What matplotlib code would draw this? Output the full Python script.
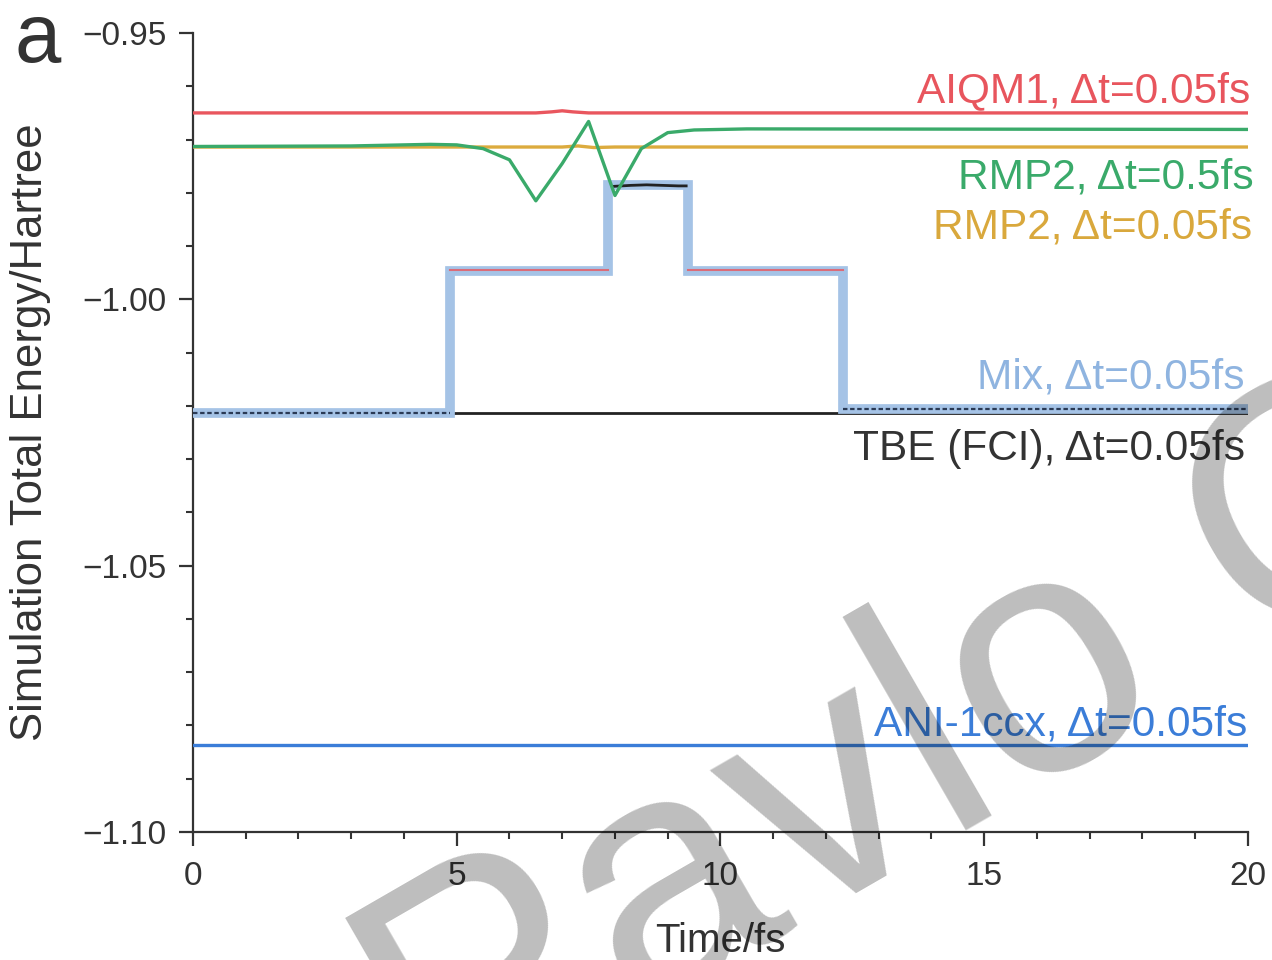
import numpy as np
import matplotlib
matplotlib.use("Agg")
import matplotlib.pyplot as plt
from matplotlib.ticker import MultipleLocator

plt.rcParams["font.family"] = ["Liberation Sans", "DejaVu Sans"]

# ---- data ----
t_aiqm1 = [0, 6.5, 6.8, 7.0, 7.2, 7.5, 20]
e_aiqm1 = [-0.9650, -0.9650, -0.9648, -0.9646, -0.9648, -0.9650, -0.9650]

t_rmp2_fine = [0, 7.0, 7.3, 7.6, 8.0, 20]
e_rmp2_fine = [-0.9714, -0.9714, -0.9712, -0.9715, -0.9714, -0.9714]

t_rmp2_coarse = [0, 3.0, 4.5, 5.0, 5.5, 6.0, 6.5, 7.0, 7.5, 8.0, 8.5, 9.0, 9.5, 10.0, 10.5, 20]
e_rmp2_coarse = [-0.9713, -0.9712, -0.9709, -0.9710, -0.9717, -0.9738, -0.9815, -0.9745,
                 -0.9666, -0.9805, -0.9717, -0.9687, -0.9682, -0.9681, -0.9680, -0.9681]

# Mix: step function (value holds until next switch time)
t_mix = [0, 4.87, 7.87, 9.38, 12.33, 20]
e_mix = [-1.0214, -0.9946, -0.9786, -0.9946, -1.0205, -1.0205]

# pieces of the mix that came from each method (thin overlays)
aiqm1_parts = [(4.87, 7.87, -0.9945), (9.38, 12.33, -0.9945)]
tbe_top_t = [7.95, 8.3, 8.6, 8.9, 9.2, 9.35]
tbe_top_e = [-0.9788, -0.9786, -0.9785, -0.9786, -0.9787, -0.9787]
tbe_low_parts = [(0, 4.87, -1.0214), (12.33, 20, -1.0205)]

t_tbe = [0, 20]
e_tbe = [-1.0214, -1.0214]

t_ani = [0, 20]
e_ani = [-1.0837, -1.0837]

xticks = [0, 5, 10, 15, 20]
yticks = [-0.95, -1.00, -1.05, -1.10]
ytick_labels = ["\u22120.95", "\u22121.00", "\u22121.05", "\u22121.10"]

# label text, right edge x, baseline y, colour
labels = [
    ("AIQM1, \u0394t=0.05fs", 20.04, -0.9629, "#e8555d"),
    ("RMP2, \u0394t=0.5fs", 20.1, -0.9791, "#3aaa6a"),
    ("RMP2, \u0394t=0.05fs", 20.08, -0.9885, "#d9a83c"),
    ("Mix, \u0394t=0.05fs", 19.94, -1.0167, "#8fb4e0"),
    ("TBE (FCI), \u0394t=0.05fs", 19.94, -1.0302, "#333333"),
    ("ANI-1ccx, \u0394t=0.05fs", 19.98, -1.0818, "#3b7dd8"),
]

c_red = "#e9565e"
c_green = "#3aaa6a"
c_gold = "#dcab3e"
c_mix = "#a5c3e6"
c_black = "#222222"
c_blue = "#3b7dd8"

fig = plt.figure(figsize=(12.72, 9.6), dpi=100)
ax = fig.add_axes([0.1517, 0.1333, 0.8294, 0.8323])

ax.plot(t_tbe, e_tbe, color=c_black, lw=2.0, zorder=2)
ax.plot(t_mix, e_mix, drawstyle="steps-post", color=c_mix, lw=7,
        solid_joinstyle="miter", zorder=3)
for t0, t1, e in aiqm1_parts:
    ax.plot([t0, t1], [e, e], color=c_red, lw=1.5, alpha=0.8, zorder=4)
ax.plot(tbe_top_t, tbe_top_e, color=c_black, lw=2.0, zorder=4)
for t0, t1, e in tbe_low_parts:
    ax.plot([t0, t1], [e, e], color="#2a3a55", lw=1.6, ls=(0, (2, 1.2)), zorder=4)

ax.plot(t_rmp2_fine, e_rmp2_fine, color=c_gold, lw=2.4, zorder=5)
ax.plot(t_aiqm1, e_aiqm1, color=c_red, lw=2.4, zorder=5)
ax.plot(t_rmp2_coarse, e_rmp2_coarse, color=c_green, lw=2.4, zorder=6)
ax.plot(t_ani, e_ani, color=c_blue, lw=2.4, zorder=5)

for txt, x, y, col in labels:
    ax.text(x, y, txt, color=col, fontsize=30.5, ha="right", va="baseline",
            clip_on=False, zorder=7)

ax.set_xlim(0, 20)
ax.set_ylim(-1.10, -0.95)
ax.set_xticks(xticks)
ax.set_yticks(yticks)
ax.set_yticklabels(ytick_labels)
ax.xaxis.set_minor_locator(MultipleLocator(1))
ax.yaxis.set_minor_locator(MultipleLocator(0.01))

for s in ["top", "right"]:
    ax.spines[s].set_visible(False)
for s in ["left", "bottom"]:
    ax.spines[s].set_linewidth(1.6)
    ax.spines[s].set_color("#333333")

ax.tick_params(which="major", length=10, width=1.6, color="#333333",
               labelsize=24, labelcolor="#333333", direction="out")
ax.tick_params(which="minor", length=5, width=1.5, color="#333333", direction="out")
ax.tick_params(axis="x", which="major", pad=11)
ax.tick_params(axis="y", which="major", pad=9)

ax.set_xlabel("Time/fs", fontsize=29, color="#333333")
ax.xaxis.set_label_coords(0.5, -0.113)
ax.set_ylabel("Simulation Total Energy/Hartree", fontsize=31.5, color="#333333")
ax.yaxis.set_label_coords(-0.135, 0.5)

fig.text(15 / 1272, 1 - 62 / 960, "a", fontsize=60, color="#333333",
         ha="left", va="baseline")

# watermark over the picture
fig.text(0.345, -0.182, "Pavlo C", fontsize=245, rotation=30, rotation_mode="anchor",
         ha="left", va="baseline", color="k", alpha=0.26, zorder=20)

fig.savefig("out.png", dpi=100)
